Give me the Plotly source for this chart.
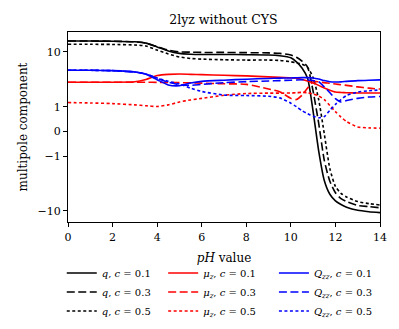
import numpy as np
import plotly.graph_objects as go

# ---------------- data ----------------
ph = [0, 1, 2, 3, 3.5, 4, 4.5, 5, 5.5, 6, 7, 8, 9, 9.5, 10, 10.25, 10.5, 10.75,
      11, 11.25, 11.5, 11.75, 12, 12.25, 12.5, 13, 13.5, 14]

q_01 = [15.8, 15.8, 15.7, 15.3, 14.5, 12.3, 10.4, 9.4, 9.1, 9.0, 9.0, 8.9, 8.8, 8.5, 7.8, 6.6,
        5.1, 3.3, 0.8, -0.8, -2.8, -5.0, -6.6, -7.7, -8.6, -9.8, -10.4, -10.8]
q_03 = [15.8, 15.8, 15.7, 15.3, 14.5, 12.5, 10.8, 10.0, 9.9, 9.8, 9.8, 9.7, 9.6, 9.4, 8.8, 8.0,
        6.8, 5.3, 1.9, 0.32, -1.2, -2.9, -4.7, -6.0, -6.8, -8.0, -8.4, -8.8]
q_05 = [13.8, 13.8, 13.7, 13.4, 12.8, 10.8, 9.2, 8.1, 7.6, 7.4, 7.2, 7.1, 7.1, 7.0, 6.6, 6.3,
        6.0, 5.2, 3.4, 1.34, -0.1, -1.7, -3.6, -4.8, -5.6, -6.8, -7.4, -7.85]

mu_01 = [2.8, 2.8, 2.8, 2.85, 3.15, 3.7, 3.9, 3.95, 3.9, 3.85, 3.75, 3.65, 3.5, 3.45, 3.38, 3.3,
         3.15, 2.95, 2.7, 2.45, 2.2, 2.0, 1.85, 1.82, 1.8, 1.78, 1.78, 1.78]
mu_03 = [2.8, 2.8, 2.8, 2.8, 2.8, 2.78, 2.77, 2.75, 2.72, 2.69, 2.62, 2.56, 2.1, 1.88, 1.42, 1.35,
         1.62, 2.2, 2.85, 2.85, 2.75, 2.68, 2.6, 2.52, 2.45, 2.3, 2.18, 2.1]
mu_05 = [1.19, 1.17, 1.14, 1.08, 1.04, 1.01, 1.08, 1.22, 1.33, 1.42, 1.62, 1.74, 1.77, 1.77, 1.78,
         1.8, 1.83, 1.8, 1.7, 1.57, 1.35, 1.05, 0.8, 0.58, 0.4, 0.18, 0.14, 0.13]

Q_01 = [4.64, 4.62, 4.55, 4.3, 3.9, 3.1, 2.5, 2.42, 2.7, 2.9, 3.05, 3.18, 3.28, 3.32, 3.35, 3.38,
        3.4, 3.4, 3.35, 3.2, 3.0, 2.85, 2.82, 2.84, 2.9, 3.0, 3.05, 3.09]
Q_03 = [4.64, 4.62, 4.55, 4.3, 3.95, 3.3, 2.8, 2.5, 2.45, 2.55, 2.75, 2.87, 2.95, 3.0, 3.05, 3.08,
        3.1, 3.08, 3.0, 2.85, 2.3, 1.8, 1.4, 1.22, 1.3, 1.42, 1.5, 1.54]
Q_05 = [4.64, 4.62, 4.55, 4.3, 3.95, 3.35, 2.9, 2.6, 2.18, 1.9, 1.63, 1.6, 1.55, 1.45, 1.16, 1.0,
        0.84, 0.72, 0.61, 0.55, 0.6, 0.85, 1.1, 1.35, 1.6, 1.85, 1.95, 2.03]

y_ticks = [-10, -1, 0, 1, 10]
y_tick_labels = ["\u221210", "\u22121", "0", "1", "10"]
x_ticks = [0, 2, 4, 6, 8, 10, 12, 14]

# ---------------- symlog transform (plotly has no symlog axis) ----------------
LIN = 0.45  # linear region width relative to one decade


def symlog(v):
    v = np.asarray(v, dtype=float)
    a = np.abs(v)
    return np.where(a <= 1, v * LIN, np.sign(v) * (LIN + np.log10(np.maximum(a, 1e-12))))


FONT = "DejaVu Serif"
DASHED = "8px,3.5px"
DOTTED = "3px,2.5px"
series = [
    (q_01, "black", "solid", "<i>q</i>, <i>c</i> = 0.1", "legend"),
    (q_03, "black", DASHED, "<i>q</i>, <i>c</i> = 0.3", "legend"),
    (q_05, "black", DOTTED, "<i>q</i>, <i>c</i> = 0.5", "legend"),
    (mu_01, "#ff0000", "solid", "<i>μ<sub>z</sub></i>, <i>c</i> = 0.1", "legend2"),
    (mu_03, "#ff0000", DASHED, "<i>μ<sub>z</sub></i>, <i>c</i> = 0.3", "legend2"),
    (mu_05, "#ff0000", DOTTED, "<i>μ<sub>z</sub></i>, <i>c</i> = 0.5", "legend2"),
    (Q_01, "#0000ff", "solid", "<i>Q<sub>zz</sub></i>, <i>c</i> = 0.1", "legend3"),
    (Q_03, "#0000ff", DASHED, "<i>Q<sub>zz</sub></i>, <i>c</i> = 0.3", "legend3"),
    (Q_05, "#0000ff", DOTTED, "<i>Q<sub>zz</sub></i>, <i>c</i> = 0.5", "legend3"),
]

fig = go.Figure()
for vals, col, dash, name, leg in series:
    fig.add_trace(go.Scatter(
        x=ph, y=symlog(vals), mode="lines", name=name, legend=leg,
        line=dict(color=col, width=1.6, dash=dash, shape="spline", smoothing=0.6),
    ))

leg_common = dict(orientation="v", yanchor="top", xanchor="left", y=-0.192,
                  bgcolor="rgba(0,0,0,0)", font=dict(family=FONT, size=10, color="black"),
                  itemwidth=30, tracegroupgap=0)

fig.update_layout(
    width=399, height=329,
    margin=dict(l=68, r=19, t=32, b=107, autoexpand=False),
    paper_bgcolor="white", plot_bgcolor="white",
    font=dict(family=FONT, color="black"),
    title=dict(text="2lyz without CYS", x=0.56, xanchor="center", y=0.94, yanchor="middle",
               font=dict(family=FONT, size=12.5, color="black")),
    showlegend=True,
    legend=dict(x=-0.02, **leg_common),
    legend2=dict(x=0.305, **leg_common),
    legend3=dict(x=0.66, **leg_common),
    xaxis=dict(range=[0, 14], tickvals=x_ticks, ticks="outside", ticklen=4, tickwidth=1,
               tickcolor="black", showline=True, linecolor="black", linewidth=1.2,
               mirror=True, showgrid=False, zeroline=False, automargin=True,
               ticklabelstandoff=1,
               tickfont=dict(family=FONT, size=11, color="black"),
               title=dict(text="<i>pH</i> value", standoff=10,
                          font=dict(family=FONT, size=12, color="black"))),
    yaxis=dict(range=[-1.655, 1.814], tickvals=list(symlog(y_ticks)), ticktext=y_tick_labels,
               ticks="outside", ticklen=4, tickwidth=1, tickcolor="black",
               showline=True, linecolor="black", linewidth=1.2, mirror=True,
               showgrid=False, zeroline=False, automargin=True,
               tickfont=dict(family=FONT, size=11, color="black"),
               title=dict(text="multipole component", standoff=7,
                          font=dict(family=FONT, size=12, color="black"))),
)

fig.write_html("out.html", config={"displayModeBar": False},
               post_script="document.body.style.margin='0px';")
